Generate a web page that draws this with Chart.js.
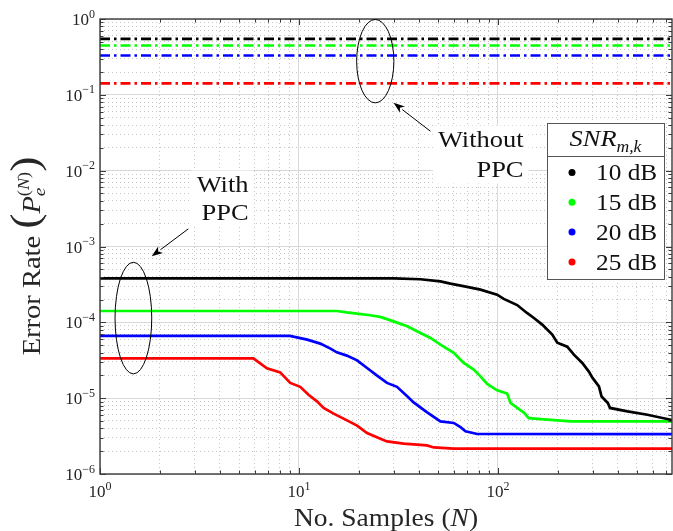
<!DOCTYPE html>
<html>
<head>
<meta charset="utf-8">
<title>Error rate vs samples</title>
<script src="https://cdn.jsdelivr.net/npm/chart.js@4.4.1/dist/chart.umd.min.js"></script>
<style>
  html, body { margin: 0; padding: 0; background: #fff; }
  canvas { display: block; }
</style>
</head>
<body>
<canvas id="errChart" width="673" height="531"></canvas>
<script>
    const snrLabels = ['10 dB', '15 dB', '20 dB', '25 dB'];
    const snrColors = ['#000000', '#00ff00', '#0000ff', '#ff0000'];

    // without PPC the error rate does not depend on N
    const noPpcRate = [0.548, 0.447, 0.33, 0.142];

    // with PPC
    const n10 = [1, 30, 40.8, 51.4, 57.7, 70, 81.7, 99.1, 107, 125, 140, 151.7, 167, 187.6, 198.8, 223, 241, 265.5, 286.5, 299, 322, 332, 357, 366, 448, 564, 750];
    const p10 = [3.81e-4, 3.8e-4, 3.7e-4, 3.47e-4, 3.24e-4, 2.93e-4, 2.7e-4, 2.32e-4, 2.04e-4, 1.69e-4, 1.33e-4, 1.14e-4, 9.33e-5, 6.89e-5, 5.4e-5, 4.78e-5, 3.75e-5, 2.91e-5, 2.24e-5, 1.85e-5, 1.43e-5, 1.05e-5, 8.65e-6, 7.43e-6, 6.7e-6, 6.05e-6, 5.15e-6];

    const n15 = [1, 15.5, 17.4, 19.6, 22.8, 25.6, 29.9, 35, 40.8, 45.8, 51.4, 60, 67.3, 75.6, 81.7, 88.3, 99.1, 111.3, 115.7, 125, 135, 143, 164, 232, 750];
    const p15 = [1.41e-4, 1.41e-4, 1.35e-4, 1.3e-4, 1.24e-4, 1.18e-4, 1.03e-4, 8.85e-5, 7.24e-5, 6.22e-5, 5.08e-5, 3.95e-5, 2.91e-5, 2.38e-5, 1.94e-5, 1.54e-5, 1.27e-5, 1.15e-5, 8.65e-6, 7.43e-6, 6.45e-6, 5.45e-6, 5.28e-6, 4.94e-6, 4.94e-6];

    const n20 = [1, 9.0, 11.0, 12.8, 14.4, 15.5, 17.4, 19.6, 22.0, 24.7, 27.7, 31.1, 35.0, 37.7, 44.1, 51.4, 60, 64.8, 68.7, 78.7, 750];
    const p20 = [6.62e-5, 6.62e-5, 5.91e-5, 5.24e-5, 4.5e-5, 4.02e-5, 3.64e-5, 3.15e-5, 2.5e-5, 1.98e-5, 1.59e-5, 1.41e-5, 1.06e-5, 8.8e-6, 6.5e-6, 4.94e-6, 4.71e-6, 4.17e-6, 3.65e-6, 3.37e-6, 3.35e-6];

    const n25 = [1, 5.9, 6.9, 8.05, 9.04, 10.15, 11.17, 12.32, 13.3, 14.94, 17.44, 19.59, 21.99, 25.15, 27.7, 33.6, 44, 47.6, 60, 750];
    const p25 = [3.35e-5, 3.35e-5, 2.47e-5, 2.19e-5, 1.59e-5, 1.41e-5, 1.11e-5, 9.08e-6, 7.43e-6, 6.25e-6, 5.1e-6, 4.34e-6, 3.47e-6, 2.98e-6, 2.69e-6, 2.51e-6, 2.38e-6, 2.24e-6, 2.16e-6, 2.16e-6];

    const xMin = 1;
    const xMax = 750;
    const xDecades = [1, 10, 100];
    const xExponents = ['0', '1', '2'];
    const yDecades = [1e-6, 1e-5, 1e-4, 1e-3, 1e-2, 1e-1, 1];
    const yExponents = ['\u22126', '\u22125', '\u22124', '\u22123', '\u22122', '\u22121', '0'];
    const minorSteps = [2, 3, 4, 5, 6, 7, 8, 9];

    const notes = [
      {
        lines: ['Without', 'PPC'], at: [134.5, 0.0257], gap: 30,
        ring: { x: [19.5, 30.0], y: [0.0784, 0.985] },
        arrow: { from: [45.8, 0.0331], to: [29.9, 0.0784] }
      },
      {
        lines: ['With', 'PPC'], at: [5.58, 6.56e-3], gap: 28.3,
        ring: { x: [1.19, 1.82], y: [2.09e-5, 6.19e-4] },
        arrow: { from: [2.78, 1.71e-3], to: [1.82, 7.43e-4] }
      }
    ];

    const serif = '"Liberation Serif", "Times New Roman", serif';
    const axisInk = '#3a3a3a';
    const stretch = 1.1; // Liberation is narrower than the LaTeX font

    const font = (size, italic) => (italic ? 'italic ' : '') + size + 'px ' + serif;

    const toPoints = (xs, ys) => xs.map((x, i) => ({ x, y: ys[i] }));

    function logTicks(decades, max) {
      const out = [];
      decades.forEach(d => {
        out.push({ value: d, major: true });
        minorSteps.forEach(m => {
          if (d * m <= max) out.push({ value: d * m, major: false });
        });
      });
      return out.filter(t => t.value <= max);
    }

    // runs of text with size/italic/dy, drawn left to right
    function runsWidth(ctx, runs, sx = 1) {
      let w = 0;
      runs.forEach(r => {
        ctx.font = font(r.size, r.italic);
        if (!r.stay) w += ctx.measureText(r.t).width * sx;
      });
      return w;
    }

    function drawRuns(ctx, runs, x, y, sx = 1) {
      let cx = x;
      runs.forEach(r => {
        ctx.font = font(r.size, r.italic);
        ctx.save();
        ctx.translate(cx, y + (r.dy || 0));
        ctx.scale(sx, 1);
        ctx.fillText(r.t, 0, 0);
        ctx.restore();
        if (!r.stay) cx += ctx.measureText(r.t).width * sx;
      });
    }

    const powRuns = exp => [{ t: '10', size: 17 }, { t: exp, size: 12, dy: -7.5 }];

    const ppcSets = [[n10, p10], [n15, p15], [n20, p20], [n25, p25]];

    const datasets = [];
    snrLabels.forEach((label, i) => {
      datasets.push({
        label: label + ' without PPC',
        data: toPoints([xMin, xMax], [noPpcRate[i], noPpcRate[i]]),
        borderColor: snrColors[i],
        borderWidth: 2.7,
        borderDash: [10, 4, 2.5, 4],
        pointRadius: 0
      });
    });
    snrLabels.forEach((label, i) => {
      datasets.push({
        label,
        data: toPoints(ppcSets[i][0], ppcSets[i][1]),
        borderColor: snrColors[i],
        borderWidth: 2.7,
        pointRadius: 0
      });
    });

    const gridColor = c => (c.tick && c.tick.major ? '#d8d8d8' : '#c6c6c6');
    const gridDash = c => (c.tick && c.tick.major ? [] : [1, 3]);

    const decorPlugin = {
      id: 'decor',
      afterDraw(chart) {
        const { ctx, chartArea: a, scales: { x, y } } = chart;
        ctx.save();

        // inward tick marks on all four sides
        ctx.strokeStyle = axisInk;
        ctx.lineWidth = 1;
        ctx.beginPath();
        x.ticks.forEach(t => {
          const px = Math.round(x.getPixelForValue(t.value)) + 0.5;
          const len = t.major ? 6 : 3.5;
          ctx.moveTo(px, a.bottom); ctx.lineTo(px, a.bottom - len);
          ctx.moveTo(px, a.top); ctx.lineTo(px, a.top + len);
        });
        y.ticks.forEach(t => {
          const py = Math.round(y.getPixelForValue(t.value)) + 0.5;
          const len = t.major ? 6 : 3.5;
          ctx.moveTo(a.left, py); ctx.lineTo(a.left + len, py);
          ctx.moveTo(a.right, py); ctx.lineTo(a.right - len, py);
        });
        ctx.stroke();

        // box
        ctx.lineWidth = 1.4;
        ctx.strokeRect(a.left, a.top, a.right - a.left, a.bottom - a.top);

        // tick labels
        ctx.fillStyle = '#262626';
        ctx.textAlign = 'left';
        ctx.textBaseline = 'alphabetic';
        yDecades.forEach((v, i) => {
          const runs = powRuns(yExponents[i]);
          const w = runsWidth(ctx, runs);
          drawRuns(ctx, runs, a.left - 5 - w, y.getPixelForValue(v) + 6);
        });
        xDecades.forEach((v, i) => {
          const runs = powRuns(xExponents[i]);
          const w = runsWidth(ctx, runs);
          drawRuns(ctx, runs, x.getPixelForValue(v) - w / 2, a.bottom + 23);
        });

        // x title
        const xTitle = [
          { t: 'No. Samples (', size: 25 },
          { t: 'N', size: 25, italic: true },
          { t: ')', size: 25 }
        ];
        const xw = runsWidth(ctx, xTitle, stretch);
        drawRuns(ctx, xTitle, (a.left + a.right) / 2 - xw / 2, 526, stretch);

        // y title, rotated
        const yTitle = [
          { t: 'Error Rate ', size: 25 },
          { t: '(', size: 40, dy: -2 },
          { t: 'P', size: 25, italic: true },
          { t: 'e', size: 17, italic: true, dy: 5, stay: true },
          { t: '(', size: 16, dy: -11 },
          { t: 'N', size: 16, italic: true, dy: -11 },
          { t: ')', size: 16, dy: -11 },
          { t: ')', size: 40, dy: -2 }
        ];
        const ys = 1.14;
        const yw = runsWidth(ctx, yTitle, ys);
        ctx.save();
        ctx.translate(40, 256 + yw / 2);
        ctx.rotate(-Math.PI / 2);
        drawRuns(ctx, yTitle, 0, 0, ys);
        ctx.restore();

        // annotations
        notes.forEach(n => {
          const tx = x.getPixelForValue(n.at[0]);
          const ty = y.getPixelForValue(n.at[1]);
          const ns = 1.15;
          ctx.font = font(23);
          const tw = Math.max(...n.lines.map(l => ctx.measureText(l).width * ns));
          ctx.fillStyle = '#fff';
          ctx.fillRect(tx - tw - 5, ty - 14, tw + 10, n.gap * (n.lines.length - 1) + 28);
          ctx.fillStyle = '#111';
          ctx.textAlign = 'left';
          n.lines.forEach((l, k) => {
            const run = [{ t: l, size: 23 }];
            drawRuns(ctx, run, tx - runsWidth(ctx, run, ns), ty + 7.6 + k * n.gap, ns);
          });

          const x0 = x.getPixelForValue(n.ring.x[0]);
          const x1 = x.getPixelForValue(n.ring.x[1]);
          const y0 = y.getPixelForValue(n.ring.y[0]);
          const y1 = y.getPixelForValue(n.ring.y[1]);
          ctx.strokeStyle = '#000';
          ctx.lineWidth = 1;
          ctx.beginPath();
          ctx.ellipse((x0 + x1) / 2, (y0 + y1) / 2, Math.abs(x1 - x0) / 2, Math.abs(y1 - y0) / 2, 0, 0, Math.PI * 2);
          ctx.stroke();

          const fx = x.getPixelForValue(n.arrow.from[0]);
          const fy = y.getPixelForValue(n.arrow.from[1]);
          const hx = x.getPixelForValue(n.arrow.to[0]);
          const hy = y.getPixelForValue(n.arrow.to[1]);
          const ang = Math.atan2(hy - fy, hx - fx);
          const hl = 11, hw = 4;
          const bx = hx - hl * Math.cos(ang);
          const by = hy - hl * Math.sin(ang);
          ctx.beginPath();
          ctx.moveTo(fx, fy); ctx.lineTo(bx, by);
          ctx.stroke();
          ctx.fillStyle = '#000';
          ctx.beginPath();
          ctx.moveTo(hx, hy);
          ctx.lineTo(bx + hw * Math.sin(ang), by - hw * Math.cos(ang));
          ctx.lineTo(bx + 3 * Math.cos(ang), by + 3 * Math.sin(ang));
          ctx.lineTo(bx - hw * Math.sin(ang), by + hw * Math.cos(ang));
          ctx.closePath();
          ctx.fill();
        });

        // legend with header
        const lw = 117, lh = 156, head = 33, row = 29.8;
        const lx = a.right - 8 - lw;
        const ly = a.top + 104;
        ctx.fillStyle = '#fff';
        ctx.fillRect(lx, ly, lw, lh);
        ctx.strokeStyle = '#555';
        ctx.lineWidth = 1;
        ctx.strokeRect(lx + 0.5, ly + 0.5, lw, lh);
        ctx.beginPath();
        ctx.moveTo(lx, ly + head + 0.5); ctx.lineTo(lx + lw, ly + head + 0.5);
        ctx.stroke();

        ctx.fillStyle = '#111';
        ctx.textAlign = 'left';
        const header = [
          { t: 'SNR', size: 24, italic: true },
          { t: 'm,k', size: 16, italic: true, dy: 6 }
        ];
        const hw2 = runsWidth(ctx, header, stretch);
        drawRuns(ctx, header, lx + lw / 2 - hw2 / 2, ly + 23, stretch);

        snrLabels.forEach((label, i) => {
          const cy = ly + head + 16.5 + i * row;
          ctx.fillStyle = snrColors[i];
          ctx.beginPath();
          ctx.arc(lx + 25, cy, 3.5, 0, Math.PI * 2);
          ctx.fill();
          ctx.fillStyle = '#111';
          drawRuns(ctx, [{ t: label, size: 23 }], lx + 49, cy + 7.6, stretch);
        });

        ctx.restore();
      }
    };

    new Chart(document.getElementById('errChart').getContext('2d'), {
      type: 'line',
      data: { datasets },
      options: {
        responsive: false,
        devicePixelRatio: 1,
        animation: false,
        layout: { padding: { top: 19, right: 1, left: 0, bottom: 0 } },
        plugins: {
          legend: { display: false },
          tooltip: { enabled: false }
        },
        elements: { line: { tension: 0, borderCapStyle: 'butt' } },
        scales: {
          x: {
            type: 'logarithmic',
            min: xMin,
            max: xMax,
            afterBuildTicks: s => { s.ticks = logTicks(xDecades, xMax); },
            afterFit: s => { s.height = 57; },
            ticks: { display: false, autoSkip: false },
            grid: { color: gridColor, lineWidth: 1, drawTicks: false },
            border: { display: false, dash: gridDash }
          },
          y: {
            type: 'logarithmic',
            min: 1e-6,
            max: 1,
            afterBuildTicks: s => { s.ticks = logTicks(yDecades, 1); },
            afterFit: s => { s.width = 100; },
            ticks: { display: false, autoSkip: false },
            grid: { color: gridColor, lineWidth: 1, drawTicks: false },
            border: { display: false, dash: gridDash }
          }
        }
      },
      plugins: [decorPlugin]
    });
</script>
</body>
</html>
